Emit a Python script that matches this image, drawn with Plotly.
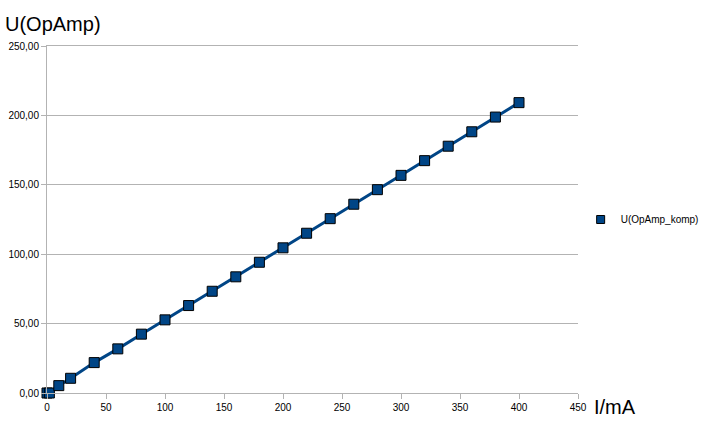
import plotly.graph_objects as go

current_mA = [0, 2, 10, 20, 40, 60, 80, 100, 120, 140, 160, 180, 200, 220, 240, 260, 280, 300, 320, 340, 360, 380, 400]
u_opamp = [0.0, 0.0, 5.3, 10.6, 21.9, 31.8, 42.4, 52.7, 63.0, 73.3, 83.7, 94.2, 104.6, 115.1, 125.6, 136.0, 146.5, 156.8, 167.4, 177.8, 188.2, 198.8, 209.2]
x_ticks = [0, 50, 100, 150, 200, 250, 300, 350, 400, 450]
y_ticks = [0, 50, 100, 150, 200, 250]

BLUE = "#004586"
GRID = "#b3b3b3"
FONT = "Liberation Sans, Arial, sans-serif"

fig = go.Figure()
fig.add_trace(go.Scatter(
    x=current_mA, y=u_opamp, mode="lines+markers", name="U(OpAmp_komp)",
    line=dict(color=BLUE, width=3),
    marker=dict(symbol="square", size=10, color=BLUE, line=dict(color="black", width=1)),
    showlegend=False, cliponaxis=False,
))
# legend entry (marker glyph only, like the reference)
fig.add_trace(go.Scatter(
    x=[None], y=[None], mode="markers", name="U(OpAmp_komp)",
    marker=dict(symbol="square", size=8, color=BLUE, line=dict(color="black", width=1)),
    showlegend=True,
))

fig.update_layout(
    width=705, height=425,
    margin=dict(l=47, r=127, t=46, b=32, autoexpand=False),
    paper_bgcolor="white", plot_bgcolor="white",
    separators=",.",
    font=dict(family=FONT, size=10, color="black"),
    showlegend=True,
    legend=dict(x=1.005, y=0.5, xanchor="left", yanchor="middle", itemwidth=30,
                font=dict(size=10, family=FONT), bgcolor="rgba(0,0,0,0)"),
    xaxis=dict(range=[0, 450], tickvals=x_ticks, showgrid=False, zeroline=False,
               showline=True, linecolor=GRID, linewidth=1, mirror=True,
               ticks="outside", ticklen=5, tickcolor=GRID, tickfont=dict(size=10),
               automargin=False),
    yaxis=dict(range=[0, 250], tickvals=y_ticks, tickformat=".2f", showgrid=True,
               gridcolor=GRID, gridwidth=1, zeroline=False,
               showline=True, linecolor=GRID, linewidth=1,
               ticks="outside", ticklen=5, tickcolor=GRID, tickfont=dict(size=10),
               automargin=False),
    annotations=[
        dict(text="U(OpAmp)", xref="paper", yref="paper", x=0, y=1.0, xshift=-44, yshift=22,
             xanchor="left", yanchor="middle", showarrow=False, font=dict(size=20, family=FONT)),
        dict(text="I/mA", xref="paper", yref="paper", x=1.0, y=0.0, xshift=14, yshift=-14,
             xanchor="left", yanchor="middle", showarrow=False, font=dict(size=20, family=FONT)),
    ],
)

fig.write_html("out.html", config={"displayModeBar": False},
               post_script="document.body.style.margin='0px';")
